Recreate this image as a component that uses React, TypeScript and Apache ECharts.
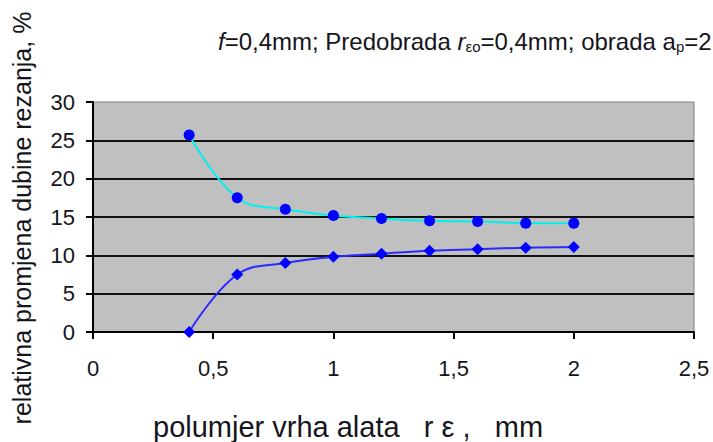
import React, { useEffect, useRef } from "react";
import * as echarts from "echarts";

const xValues = [0.4, 0.6, 0.8, 1.0, 1.2, 1.4, 1.6, 1.8, 2.0];
const upperValues = [25.7, 17.5, 16.0, 15.2, 14.8, 14.5, 14.4, 14.2, 14.2];
const lowerValues = [0, 7.5, 9.0, 9.8, 10.2, 10.6, 10.8, 11.0, 11.1];

const fmt = (v: number) => String(v).replace(".", ",");
const FONT = "Liberation Sans, Arial, sans-serif";

export default function App() {
  const ref = useRef<HTMLDivElement>(null);
  useEffect(() => {
    if (!ref.current) return;
    const chart = echarts.init(ref.current, undefined, { renderer: "svg" });
    chart.setOption({
      animation: false,
      backgroundColor: "#ffffff",
      textStyle: { fontFamily: FONT },
      grid: {
        left: 93,
        right: 19,
        top: 102,
        bottom: 110,
        show: true,
        backgroundColor: "#c0c0c0",
        borderColor: "#808080",
        borderWidth: 1,
      },
      xAxis: {
        type: "value",
        min: 0,
        max: 2.5,
        interval: 0.5,
        axisLine: { show: true, onZero: false, lineStyle: { color: "#000", width: 2 } },
        axisTick: { show: true, length: 7, lineStyle: { color: "#000", width: 2 } },
        axisLabel: {
          color: "#151520",
          fontSize: 22,
          margin: 25,
          formatter: (v: number) => fmt(v),
        },
        splitLine: { show: false },
      },
      yAxis: {
        type: "value",
        min: 0,
        max: 30,
        interval: 5,
        axisLine: { show: true, lineStyle: { color: "#000", width: 2 } },
        axisTick: { show: true, length: 7, lineStyle: { color: "#000", width: 2 } },
        axisLabel: { color: "#151520", fontSize: 22, margin: 18 },
        splitLine: {
          show: true,
          showMaxLine: false,
          lineStyle: { color: "#111", width: 2 },
        },
      },
      graphic: [
        {
          type: "text",
          left: 218,
          top: 29,
          style: {
            text: "{i|f}=0,4mm; Predobrada {i|r}{sub|εo}=0,4mm; obrada a{sub|p}=2",
            fontSize: 24,
            fill: "#151520",
            fontFamily: FONT,
            rich: {
              i: { fontStyle: "italic", fontSize: 24, fill: "#151520" },
              sub: { fontSize: 15, fill: "#151520", verticalAlign: "bottom", padding: [11, 0, 0, 0] },
            },
          },
        },
        {
          type: "text",
          x: 22,
          y: 218,
          rotation: Math.PI / 2,
          style: {
            text: "relativna promjena dubine rezanja, %",
            fontSize: 25,
            fill: "#151520",
            align: "center",
            verticalAlign: "middle",
            fontFamily: FONT,
          },
        },
        {
          type: "text",
          x: 153,
          y: 427,
          style: {
            text: "polumjer vrha alata   r ε ,   mm",
            fontSize: 29,
            fill: "#151520",
            align: "left",
            verticalAlign: "middle",
            fontFamily: FONT,
          },
        },
      ],
      series: [
        {
          type: "line",
          data: xValues.map((x, i) => [x, upperValues[i]]),
          smooth: 0.4,
          symbol: "circle",
          symbolSize: 11,
          lineStyle: { color: "#00f0f0", width: 2 },
          itemStyle: { color: "#0000ff" },
        },
        {
          type: "line",
          data: xValues.map((x, i) => [x, lowerValues[i]]),
          smooth: 0.4,
          symbol: "diamond",
          symbolSize: 12,
          lineStyle: { color: "#2a2aff", width: 2 },
          itemStyle: { color: "#0000ff" },
        },
      ],
    });
    return () => chart.dispose();
  }, []);
  return <div ref={ref} style={{ width: 713, height: 442, position: "fixed", left: 0, top: 0 }} />;
}
